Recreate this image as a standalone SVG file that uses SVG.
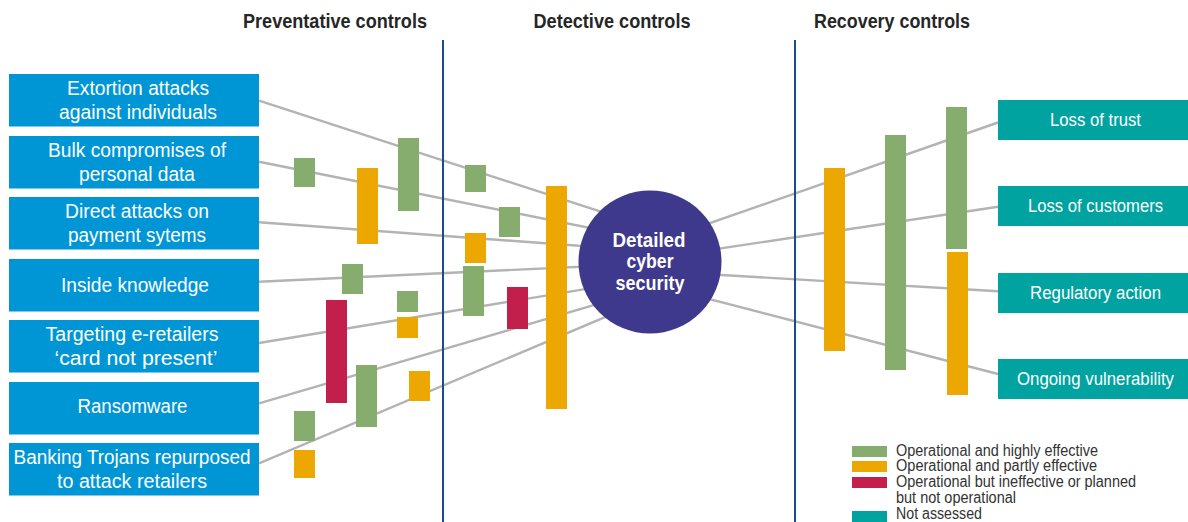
<svg xmlns="http://www.w3.org/2000/svg" width="1188" height="522" viewBox="0 0 1188 522">
  <style>
    .t { font-family: "Liberation Sans", Arial, sans-serif; }
    .head { font-size: 21px; font-weight: bold; fill: #262626; text-anchor: middle; }
    .threat rect { fill: #0096d6; }
    .threat text { font-size: 20px; fill: #ffffff; text-anchor: middle; }
    .impact rect { fill: #00a3a0; }
    .impact text { font-size: 18px; fill: #ffffff; text-anchor: middle; }
    .link { stroke: #b3b3b3; stroke-width: 2.4; fill: none; }
    .divider { stroke: #1a4d8f; stroke-width: 2; }
    .g { fill: #86ad6e; }
    .o { fill: #eca800; }
    .r { fill: #c21f4d; }
    .n { fill: #00a3a0; }
    .legend text { font-size: 16px; fill: #333333; }
  </style>

  <!-- column headings -->
  <text class="t head" x="335" y="28" textLength="184" lengthAdjust="spacingAndGlyphs">Preventative controls</text>
  <text class="t head" x="612" y="28" textLength="157" lengthAdjust="spacingAndGlyphs">Detective controls</text>
  <text class="t head" x="892" y="28" textLength="156" lengthAdjust="spacingAndGlyphs">Recovery controls</text>

  <!-- connectors: threats into the hub, hub out to impacts -->
  <g id="connectors">
    <line class="link" x1="259" y1="100.7" x2="650" y2="227.7"/>
    <line class="link" x1="259" y1="161.7" x2="650" y2="240"/>
    <line class="link" x1="259" y1="222.3" x2="650" y2="251"/>
    <line class="link" x1="259" y1="281.7" x2="650" y2="263.5"/>
    <line class="link" x1="259" y1="343" x2="650" y2="278.4"/>
    <line class="link" x1="259" y1="403.3" x2="650" y2="288.6"/>
    <line class="link" x1="259" y1="463.3" x2="650" y2="298.1"/>
    <line class="link" x1="650" y1="244" x2="998" y2="122.5"/>
    <line class="link" x1="650" y1="259" x2="998" y2="206.7"/>
    <line class="link" x1="650" y1="270.7" x2="998" y2="291.3"/>
    <line class="link" x1="650" y1="283.7" x2="998" y2="374"/>
  </g>

  <!-- section dividers -->
  <line class="divider" x1="443" y1="40" x2="443" y2="522"/>
  <line class="divider" x1="795" y1="40" x2="795" y2="522"/>

  <!-- threat nodes -->
  <g id="threat-extortion" class="t threat">
    <rect x="9" y="74" width="250" height="52.5"/>
    <text x="138" y="95" textLength="142" lengthAdjust="spacingAndGlyphs">Extortion attacks</text>
    <text x="138" y="119" textLength="158" lengthAdjust="spacingAndGlyphs">against individuals</text>
  </g>
  <g id="threat-bulk" class="t threat">
    <rect x="9" y="136" width="250" height="52.5"/>
    <text x="137" y="157" textLength="178" lengthAdjust="spacingAndGlyphs">Bulk compromises of</text>
    <text x="137" y="181" textLength="116" lengthAdjust="spacingAndGlyphs">personal data</text>
  </g>
  <g id="threat-payment" class="t threat">
    <rect x="9" y="197" width="250" height="52.5"/>
    <text x="137" y="218" textLength="144" lengthAdjust="spacingAndGlyphs">Direct attacks on</text>
    <text x="137" y="242" textLength="138" lengthAdjust="spacingAndGlyphs">payment sytems</text>
  </g>
  <g id="threat-inside" class="t threat">
    <rect x="9" y="259" width="250" height="52.5"/>
    <text x="135" y="292" textLength="148" lengthAdjust="spacingAndGlyphs">Inside knowledge</text>
  </g>
  <g id="threat-cnp" class="t threat">
    <rect x="9" y="320" width="250" height="52.5"/>
    <text x="132" y="341" textLength="173" lengthAdjust="spacingAndGlyphs">Targeting e-retailers</text>
    <text x="136" y="365" textLength="163" lengthAdjust="spacingAndGlyphs">‘card not present’</text>
  </g>
  <g id="threat-ransomware" class="t threat">
    <rect x="9" y="382" width="250" height="52.5"/>
    <text x="132.5" y="413" textLength="110" lengthAdjust="spacingAndGlyphs">Ransomware</text>
  </g>
  <g id="threat-trojans" class="t threat">
    <rect x="9" y="443" width="250" height="52.5"/>
    <text x="132" y="464" textLength="237" lengthAdjust="spacingAndGlyphs">Banking Trojans repurposed</text>
    <text x="132" y="488" textLength="150" lengthAdjust="spacingAndGlyphs">to attack retailers</text>
  </g>

  <!-- preventative control bars -->
  <g id="preventative-bars">
    <rect class="g" x="294" y="158" width="21" height="29"/>
    <rect class="o" x="357" y="168" width="21" height="76"/>
    <rect class="g" x="398" y="138" width="21" height="73"/>
    <rect class="g" x="342" y="264" width="21" height="30"/>
    <rect class="r" x="326" y="300" width="21" height="103"/>
    <rect class="g" x="397" y="291" width="21" height="21"/>
    <rect class="o" x="397" y="317" width="21" height="21"/>
    <rect class="g" x="356" y="365" width="21" height="62"/>
    <rect class="o" x="409" y="371" width="21" height="30"/>
    <rect class="g" x="294" y="411" width="21" height="30"/>
    <rect class="o" x="294" y="450" width="21" height="28"/>
  </g>

  <!-- detective control bars -->
  <g id="detective-bars">
    <rect class="g" x="465" y="165" width="21" height="27"/>
    <rect class="g" x="499" y="207" width="21" height="30"/>
    <rect class="o" x="465" y="233" width="21" height="30"/>
    <rect class="g" x="463" y="266" width="21" height="50"/>
    <rect class="r" x="507" y="287" width="21" height="42"/>
    <rect class="o" x="546" y="186" width="21" height="223"/>
  </g>

  <!-- central hub -->
  <g id="hub">
    <circle cx="650" cy="262" r="71.5" fill="#3e398c"/>
    <g class="t" font-size="21" font-weight="bold" fill="#ffffff" text-anchor="middle">
      <text x="649" y="247" textLength="73" lengthAdjust="spacingAndGlyphs">Detailed</text>
      <text x="650" y="268" textLength="47" lengthAdjust="spacingAndGlyphs">cyber</text>
      <text x="650" y="290" textLength="69" lengthAdjust="spacingAndGlyphs">security</text>
    </g>
  </g>

  <!-- recovery control bars -->
  <g id="recovery-bars">
    <rect class="o" x="824" y="168" width="21" height="183"/>
    <rect class="g" x="885" y="135" width="21" height="235"/>
    <rect class="g" x="946" y="107" width="21" height="142"/>
    <rect class="o" x="947" y="252" width="21" height="143"/>
  </g>

  <!-- impact nodes -->
  <g id="impact-trust" class="t impact">
    <rect x="998" y="100" width="190" height="40"/>
    <text x="1095.5" y="126" textLength="91" lengthAdjust="spacingAndGlyphs">Loss of trust</text>
  </g>
  <g id="impact-customers" class="t impact">
    <rect x="998" y="186" width="190" height="40"/>
    <text x="1095.5" y="212" textLength="135" lengthAdjust="spacingAndGlyphs">Loss of customers</text>
  </g>
  <g id="impact-regulatory" class="t impact">
    <rect x="998" y="273" width="190" height="40"/>
    <text x="1095.5" y="299" textLength="131" lengthAdjust="spacingAndGlyphs">Regulatory action</text>
  </g>
  <g id="impact-vulnerability" class="t impact">
    <rect x="998" y="359" width="190" height="40"/>
    <text x="1095.5" y="385" textLength="157" lengthAdjust="spacingAndGlyphs">Ongoing vulnerability</text>
  </g>

  <!-- key -->
  <g id="legend" class="t legend">
    <rect class="g" x="852" y="446" width="35" height="11"/>
    <rect class="o" x="852" y="461" width="35" height="11"/>
    <rect class="r" x="852" y="477" width="35" height="11"/>
    <rect class="n" x="852" y="511" width="35" height="11"/>
    <text x="896" y="456" textLength="202" lengthAdjust="spacingAndGlyphs">Operational and highly effective</text>
    <text x="896" y="471" textLength="201" lengthAdjust="spacingAndGlyphs">Operational and partly effective</text>
    <text x="896" y="487" textLength="240" lengthAdjust="spacingAndGlyphs">Operational but ineffective or planned</text>
    <text x="896" y="503" textLength="120" lengthAdjust="spacingAndGlyphs">but not operational</text>
    <text x="896" y="519" textLength="86" lengthAdjust="spacingAndGlyphs">Not assessed</text>
  </g>
</svg>
